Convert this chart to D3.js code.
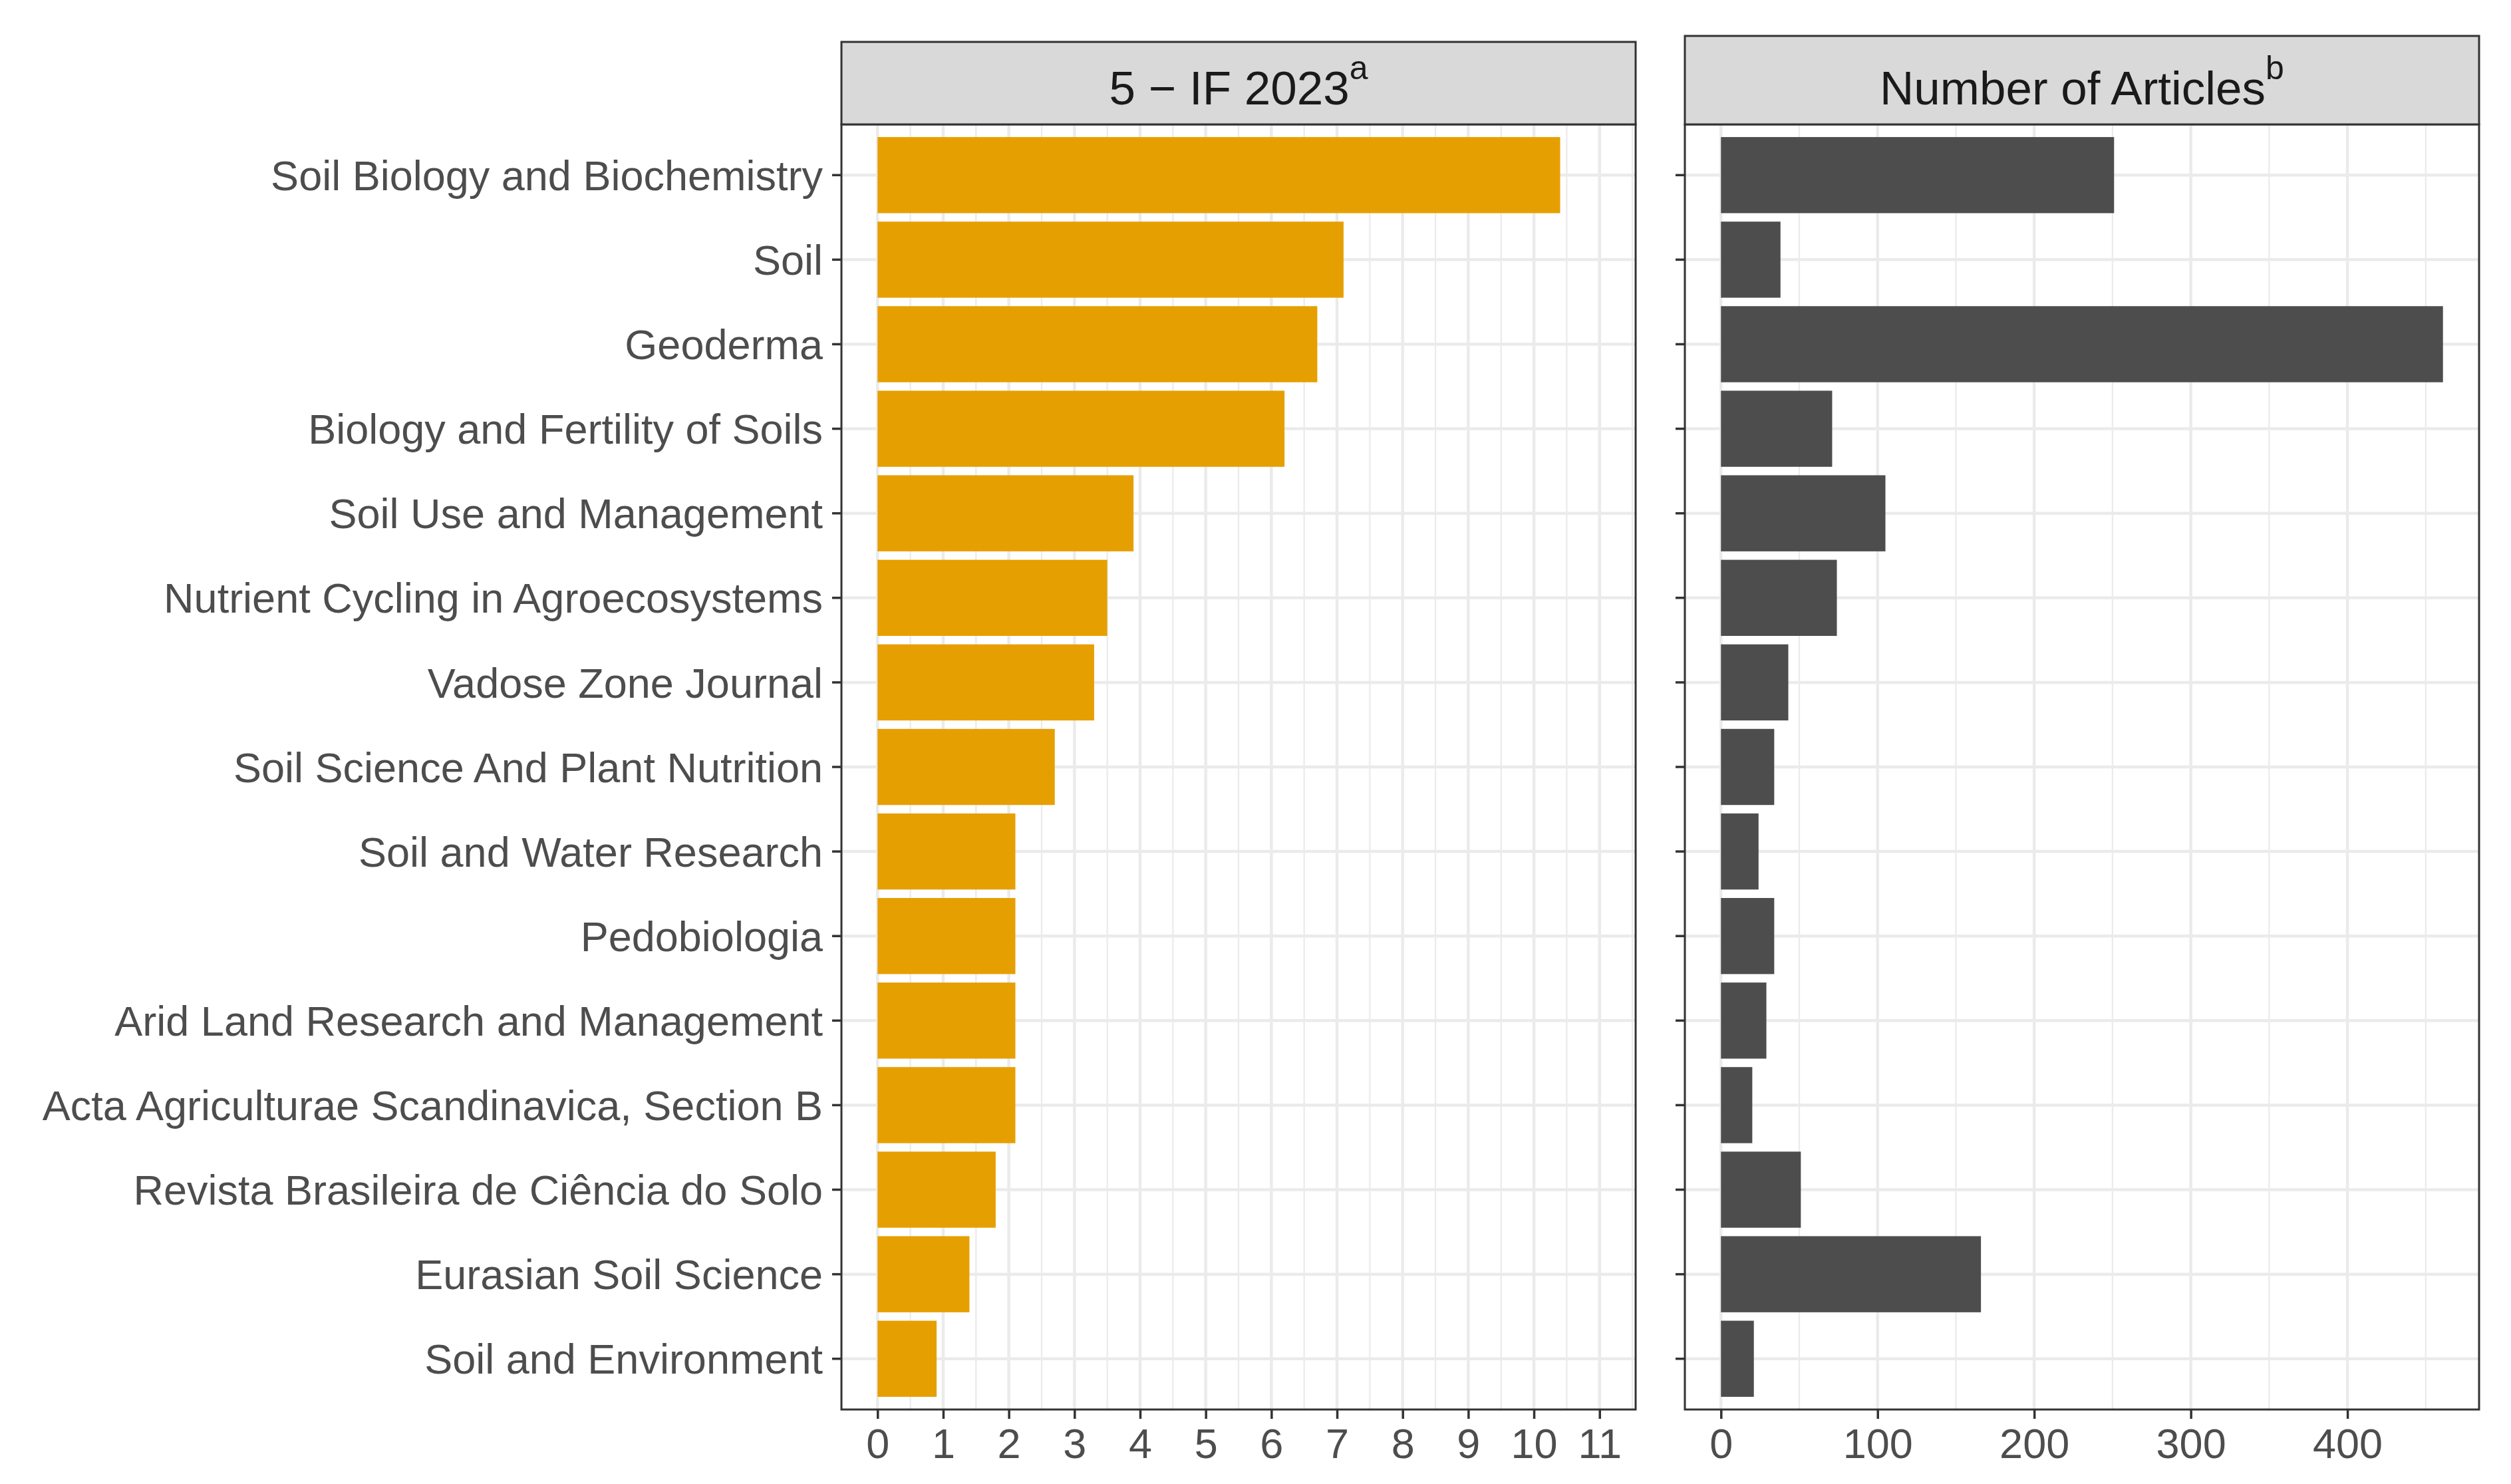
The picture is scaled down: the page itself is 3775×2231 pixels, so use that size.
<!DOCTYPE html>
<html>
<head>
<meta charset="utf-8">
<script src="https://cdn.jsdelivr.net/npm/d3@7"></script>
<style>
  html, body { margin: 0; padding: 0; background: #fff; }
  text { font-family: "Liberation Sans", Arial, sans-serif; }
</style>
</head>
<body>
<svg id="chart"></svg>
<script>
// journals, top to bottom
const journals = [
  "Soil Biology and Biochemistry",
  "Soil",
  "Geoderma",
  "Biology and Fertility of Soils",
  "Soil Use and Management",
  "Nutrient Cycling in Agroecosystems",
  "Vadose Zone Journal",
  "Soil Science And Plant Nutrition",
  "Soil and Water Research",
  "Pedobiologia",
  "Arid Land Research and Management",
  "Acta Agriculturae Scandinavica, Section B",
  "Revista Brasileira de Ciência do Solo",
  "Eurasian Soil Science",
  "Soil and Environment"
];
const impactFactor = [10.4, 7.1, 6.7, 6.2, 3.9, 3.5, 3.3, 2.7, 2.1, 2.1, 2.1, 2.1, 1.8, 1.4, 0.9];
const articles = [251, 38, 461, 71, 105, 74, 43, 34, 24, 34, 29, 20, 51, 166, 21];

const ifTicks = [0, 1, 2, 3, 4, 5, 6, 7, 8, 9, 10, 11];
const artTicks = [0, 100, 200, 300, 400];

const W = 3775, H = 2231;
const svg = d3.select("#chart").attr("width", W).attr("height", H);
svg.append("rect").attr("width", W).attr("height", H).attr("fill", "#fff");

const stripBottom = 187, panelBottom = 2119;

const y = d3.scaleBand()
  .domain(journals)
  .range([stripBottom, panelBottom])
  .paddingInner(0.1)
  .paddingOuter(0.15);

// ggplot style 5% expansion
function expanded(lo, hi) {
  const pad = (hi - lo) * 0.05;
  return [lo - pad, hi + pad];
}

const panels = [
  { x0: 1265, x1: 2459, stripTop: 63, values: impactFactor, limits: [0, 11], ticks: ifTicks,
    fill: "#E69F00", title: "5 \u2212 IF 2023", sup: "a", labels: true },
  { x0: 2533, x1: 3727, stripTop: 54, values: articles, limits: [0, d3.max(articles)], ticks: artTicks,
    fill: "#4D4D4D", title: "Number of Articles", sup: "b", labels: false }
];

panels.forEach(p => {
  const x = d3.scaleLinear().domain(expanded(p.limits[0], p.limits[1])).range([p.x0, p.x1]);
  const g = svg.append("g");

  // minor grid
  const minor = d3.range(1, p.ticks.length).map(i => (p.ticks[i - 1] + p.ticks[i]) / 2);
  const step = p.ticks[1] - p.ticks[0];
  const lastMinor = p.ticks[p.ticks.length - 1] + step / 2;
  if (lastMinor <= x.domain()[1]) minor.push(lastMinor);

  g.selectAll(".minor").data(minor).enter().append("line")
    .attr("x1", d => x(d)).attr("x2", d => x(d))
    .attr("y1", stripBottom).attr("y2", panelBottom)
    .attr("stroke", "#EBEBEB").attr("stroke-width", 2.3);

  g.selectAll(".vmajor").data(p.ticks).enter().append("line")
    .attr("x1", d => x(d)).attr("x2", d => x(d))
    .attr("y1", stripBottom).attr("y2", panelBottom)
    .attr("stroke", "#EBEBEB").attr("stroke-width", 4.5);

  g.selectAll(".hmajor").data(journals).enter().append("line")
    .attr("x1", p.x0).attr("x2", p.x1)
    .attr("y1", d => y(d) + y.bandwidth() / 2).attr("y2", d => y(d) + y.bandwidth() / 2)
    .attr("stroke", "#EBEBEB").attr("stroke-width", 4.5);

  // bars
  g.selectAll(".bar").data(journals).enter().append("rect")
    .attr("x", x(0))
    .attr("y", d => y(d))
    .attr("width", (d, i) => x(p.values[i]) - x(0))
    .attr("height", y.bandwidth())
    .attr("fill", p.fill);

  // panel border
  g.append("rect")
    .attr("x", p.x0).attr("y", stripBottom)
    .attr("width", p.x1 - p.x0).attr("height", panelBottom - stripBottom)
    .attr("fill", "none").attr("stroke", "#333333").attr("stroke-width", 3);

  // strip
  g.append("rect")
    .attr("x", p.x0).attr("y", p.stripTop)
    .attr("width", p.x1 - p.x0).attr("height", stripBottom - p.stripTop)
    .attr("fill", "#D9D9D9").attr("stroke", "#333333").attr("stroke-width", 3);
  const t = g.append("text")
    .attr("x", (p.x0 + p.x1) / 2).attr("y", 157)
    .attr("text-anchor", "middle")
    .attr("font-size", 71).attr("fill", "#1A1A1A");
  t.append("tspan").text(p.title);
  t.append("tspan").attr("font-size", 50).attr("dy", -38).text(p.sup);

  // x axis
  const xa = g.append("g")
    .attr("transform", `translate(0,${panelBottom})`)
    .call(d3.axisBottom(x).tickValues(p.ticks).tickSize(14).tickPadding(14).tickFormat(d3.format("d")));
  xa.select(".domain").remove();
  xa.selectAll("line").attr("stroke", "#333333").attr("stroke-width", 3.5);
  xa.selectAll("text").attr("font-size", 63).attr("fill", "#4D4D4D")
    .attr("font-family", "'Liberation Sans', Arial, sans-serif");

  // y axis
  const ya = g.append("g")
    .attr("transform", `translate(${p.x0},0)`)
    .call(d3.axisLeft(y).tickSize(14).tickPadding(14));
  ya.select(".domain").remove();
  ya.selectAll("line").attr("stroke", "#333333").attr("stroke-width", 3.5);
  if (p.labels) {
    ya.selectAll("text").attr("font-size", 63).attr("fill", "#4D4D4D").attr("dy", "0.36em")
      .attr("font-family", "'Liberation Sans', Arial, sans-serif");
  } else {
    ya.selectAll("text").remove();
  }
});
</script>
</body>
</html>
